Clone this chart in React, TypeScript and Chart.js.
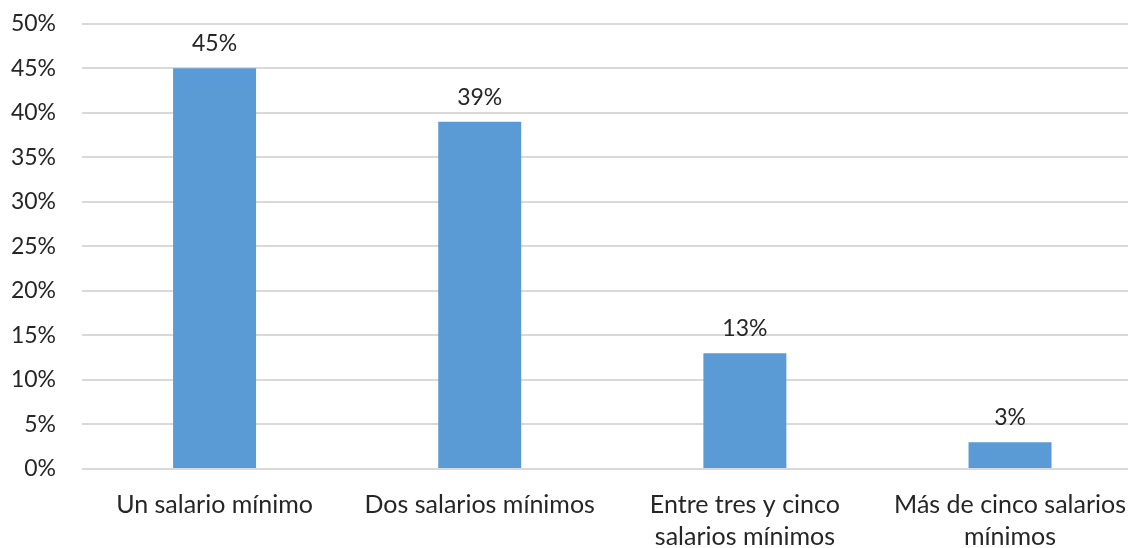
import React, { useEffect, useRef } from "react";
import { Chart, registerables } from "chart.js";

Chart.register(...registerables);

const categories: string[][] = [
  ["Un salario mínimo"],
  ["Dos salarios mínimos"],
  ["Entre tres y cinco", "salarios mínimos"],
  ["Más de cinco salarios", "mínimos"],
];
const values: number[] = [45, 39, 13, 3];
const yTickStep = 5;
const yMax = 50;

const FONT = "Lato, 'Open Sans', sans-serif";
const FS = 23;
const FS_X = 25;

const valueLabels = {
  id: "valueLabels",
  afterDatasetsDraw(chart: any) {
    const ctx = chart.ctx;
    const meta = chart.getDatasetMeta(0);
    ctx.save();
    ctx.font = `${FS}px ${FONT}`;
    ctx.fillStyle = "#262626";
    ctx.textAlign = "center";
    ctx.textBaseline = "bottom";
    meta.data.forEach((bar: any, i: number) => {
      ctx.fillText(`${values[i]}%`, bar.x, bar.y - 13);
    });
    ctx.restore();
  },
};

export default function App() {
  const ref = useRef<HTMLCanvasElement | null>(null);
  useEffect(() => {
    if (!ref.current) return;
    const chart = new Chart(ref.current, {
      type: "bar",
      data: {
        labels: categories,
        datasets: [
          {
            data: values,
            backgroundColor: "#5B9BD5",
            categoryPercentage: 1,
            barPercentage: 0.313,
          },
        ],
      },
      options: {
        responsive: false,
        animation: false,
        maintainAspectRatio: false,
        layout: { padding: { top: 0, right: 0, left: 0, bottom: 0 } },
        plugins: { legend: { display: false }, tooltip: { enabled: false } },
        scales: {
          x: {
            grid: { display: false, drawTicks: false },
            border: { display: false },
            ticks: {
              color: "#262626",
              font: { family: FONT, size: FS_X, lineHeight: 1.28 },
              padding: 20,
              maxRotation: 0,
              autoSkip: false,
            },
            afterFit: (s: any) => {
              s.height = 79;
            },
          },
          y: {
            min: 0,
            max: yMax,
            grid: { color: "#d9d9d9", lineWidth: 2, drawTicks: false },
            border: { display: false },
            ticks: {
              stepSize: yTickStep,
              color: "#262626",
              font: { family: FONT, size: FS },
              padding: 26,
              callback: (v: any) => `${v}%`,
            },
            afterFit: (s: any) => {
              s.width = 82;
            },
          },
        },
      },
      plugins: [valueLabels],
    });
    return () => chart.destroy();
  }, []);
  return (
    <div style={{ position: "fixed", left: 0, top: 0, width: 1128, height: 548, overflow: "hidden", background: "#fff" }}>
      <canvas
        ref={ref}
        width={1146}
        height={564}
        style={{ width: 1146, height: 564, display: "block", marginTop: -16 }}
      />
    </div>
  );
}
